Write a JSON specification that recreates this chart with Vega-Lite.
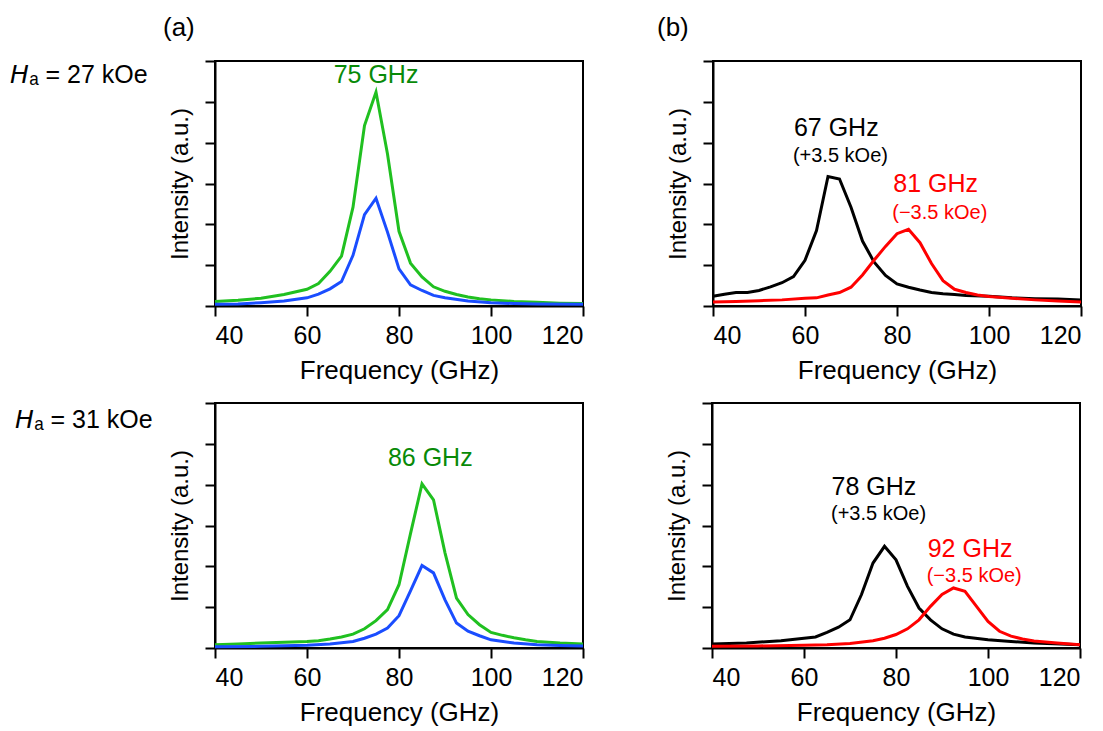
{
  "$schema": "https://vega.github.io/schema/vega-lite/v6.json",
  "background": "white",
  "padding": {"left": 10, "top": 14, "right": 2, "bottom": 2},
  "config": {
    "font": "Liberation Sans",
    "view": {"stroke": "black", "strokeWidth": 2},
    "axis": {"domainColor": "black", "domainWidth": 2, "tickColor": "black", "tickWidth": 2, "tickSize": 10, "labelFontSize": 25, "labelColor": "black", "titleFontSize": 26, "titleFontWeight": "normal", "titleColor": "black", "grid": false, "labelPadding": 7, "titlePadding": 9, "labelFont": "Liberation Sans", "titleFont": "Liberation Sans"},
    "axisY": {"titlePadding": 12, "titleFontSize": 24},
    "title": {"font": "Liberation Sans", "fontWeight": "normal", "color": "black"}
  },
  "datasets": {
    "a27g": [{"f":40,"i":0.11},{"f":45,"i":0.14},{"f":50,"i":0.19},{"f":55,"i":0.28},{"f":60,"i":0.41},{"f":62.5,"i":0.55},{"f":65,"i":0.85},{"f":67.5,"i":1.22},{"f":70,"i":2.42},{"f":72.5,"i":4.42},{"f":75,"i":5.24},{"f":77.5,"i":3.72},{"f":80,"i":1.83},{"f":82.5,"i":1.05},{"f":85,"i":0.71},{"f":87.5,"i":0.47},{"f":90,"i":0.36},{"f":92.5,"i":0.28},{"f":95,"i":0.22},{"f":97.5,"i":0.18},{"f":100,"i":0.15},{"f":105,"i":0.11},{"f":110,"i":0.09},{"f":115,"i":0.07},{"f":120,"i":0.06}],
    "a27b": [{"f":40,"i":0.04},{"f":45,"i":0.05},{"f":50,"i":0.08},{"f":55,"i":0.12},{"f":60,"i":0.2},{"f":62.5,"i":0.29},{"f":65,"i":0.42},{"f":67.5,"i":0.6},{"f":70,"i":1.24},{"f":72.5,"i":2.24},{"f":75,"i":2.64},{"f":77.5,"i":1.81},{"f":80,"i":0.91},{"f":82.5,"i":0.52},{"f":85,"i":0.38},{"f":87.5,"i":0.26},{"f":90,"i":0.2},{"f":95,"i":0.12},{"f":100,"i":0.08},{"f":105,"i":0.06},{"f":110,"i":0.05},{"f":120,"i":0.04}],
    "b27k": [{"f":40,"i":0.24},{"f":42.5,"i":0.29},{"f":45,"i":0.33},{"f":47.5,"i":0.33},{"f":50,"i":0.38},{"f":52.5,"i":0.47},{"f":55,"i":0.57},{"f":57.5,"i":0.72},{"f":60,"i":1.12},{"f":62.5,"i":1.85},{"f":65,"i":3.17},{"f":67.5,"i":3.11},{"f":70,"i":2.42},{"f":72.5,"i":1.59},{"f":75,"i":1.08},{"f":77.5,"i":0.75},{"f":80,"i":0.54},{"f":82.5,"i":0.46},{"f":85,"i":0.39},{"f":87.5,"i":0.33},{"f":90,"i":0.3},{"f":92.5,"i":0.28},{"f":95,"i":0.26},{"f":100,"i":0.24},{"f":105,"i":0.2},{"f":110,"i":0.18},{"f":115,"i":0.17},{"f":120,"i":0.15}],
    "b27r": [{"f":40,"i":0.1},{"f":45,"i":0.11},{"f":50,"i":0.13},{"f":55,"i":0.15},{"f":60,"i":0.19},{"f":62.5,"i":0.2},{"f":65,"i":0.27},{"f":67.5,"i":0.33},{"f":70,"i":0.46},{"f":72.5,"i":0.76},{"f":75,"i":1.12},{"f":77.5,"i":1.46},{"f":80,"i":1.77},{"f":82.5,"i":1.88},{"f":85,"i":1.55},{"f":87.5,"i":1.04},{"f":90,"i":0.62},{"f":92.5,"i":0.41},{"f":95,"i":0.33},{"f":97.5,"i":0.27},{"f":100,"i":0.23},{"f":105,"i":0.19},{"f":110,"i":0.15},{"f":115,"i":0.12},{"f":120,"i":0.1}],
    "a31g": [{"f":40,"i":0.08},{"f":45,"i":0.1},{"f":50,"i":0.12},{"f":55,"i":0.14},{"f":60,"i":0.16},{"f":62.5,"i":0.18},{"f":65,"i":0.22},{"f":67.5,"i":0.27},{"f":70,"i":0.34},{"f":72.5,"i":0.47},{"f":75,"i":0.67},{"f":77.5,"i":0.94},{"f":80,"i":1.55},{"f":82.5,"i":2.8},{"f":85,"i":4.02},{"f":87.5,"i":3.63},{"f":90,"i":2.33},{"f":92.5,"i":1.22},{"f":95,"i":0.82},{"f":97.5,"i":0.57},{"f":100,"i":0.38},{"f":102.5,"i":0.31},{"f":105,"i":0.25},{"f":107.5,"i":0.2},{"f":110,"i":0.16},{"f":115,"i":0.12},{"f":120,"i":0.1}],
    "a31b": [{"f":40,"i":0.03},{"f":50,"i":0.04},{"f":60,"i":0.07},{"f":65,"i":0.1},{"f":70,"i":0.16},{"f":72.5,"i":0.24},{"f":75,"i":0.34},{"f":77.5,"i":0.49},{"f":80,"i":0.79},{"f":82.5,"i":1.4},{"f":85,"i":2.02},{"f":87.5,"i":1.84},{"f":90,"i":1.18},{"f":92.5,"i":0.61},{"f":95,"i":0.41},{"f":97.5,"i":0.3},{"f":100,"i":0.2},{"f":105,"i":0.12},{"f":110,"i":0.08},{"f":115,"i":0.06},{"f":120,"i":0.05}],
    "b31k": [{"f":40,"i":0.1},{"f":47.5,"i":0.12},{"f":52.5,"i":0.16},{"f":55,"i":0.18},{"f":60,"i":0.24},{"f":62.5,"i":0.27},{"f":65,"i":0.38},{"f":67.5,"i":0.51},{"f":70,"i":0.69},{"f":72.5,"i":1.31},{"f":75,"i":2.08},{"f":77.5,"i":2.49},{"f":80,"i":2.16},{"f":82.5,"i":1.51},{"f":85,"i":0.98},{"f":87.5,"i":0.69},{"f":90,"i":0.47},{"f":92.5,"i":0.34},{"f":95,"i":0.27},{"f":100,"i":0.2},{"f":105,"i":0.16},{"f":110,"i":0.12},{"f":120,"i":0.08}],
    "b31r": [{"f":40,"i":0.04},{"f":50,"i":0.05},{"f":60,"i":0.07},{"f":65,"i":0.08},{"f":70,"i":0.11},{"f":75,"i":0.18},{"f":77.5,"i":0.24},{"f":80,"i":0.33},{"f":82.5,"i":0.47},{"f":85,"i":0.69},{"f":87.5,"i":1.02},{"f":90,"i":1.31},{"f":92.5,"i":1.47},{"f":95,"i":1.39},{"f":97.5,"i":1.02},{"f":100,"i":0.65},{"f":102.5,"i":0.41},{"f":105,"i":0.29},{"f":107.5,"i":0.22},{"f":110,"i":0.17},{"f":115,"i":0.12},{"f":120,"i":0.08}]
  },
  "spacing": 17,
  "vconcat": [
    {
      "title": {"text": "𝘏ₐ = 27 kOe", "orient": "left", "anchor": "end", "angle": 0, "align": "right", "baseline": "top", "offset": -123, "dy": 49, "fontSize": 25, "frame": "bounds"},
      "spacing": 66,
      "hconcat": [
        {
          "width": 368, "height": 245,
          "title": {"text": "(a)", "anchor": "start", "frame": "group", "dx": -52, "offset": 19, "fontSize": 26},
          "layer": [
            {"data": {"name": "a27g"}, "mark": {"type": "line", "color": "#20c020", "strokeWidth": 3},
             "encoding": {"x": {"field": "f", "type": "quantitative", "scale": {"domain": [40, 120], "nice": false, "zero": false}, "axis": {"values": [40, 60, 80, 100, 120], "title": "Frequency (GHz)"}},
                          "y": {"field": "i", "type": "quantitative", "scale": {"domain": [0, 6], "nice": false}, "axis": {"values": [0, 1, 2, 3, 4, 5, 6], "labels": false, "title": "Intensity (a.u.)"}}}},
            {"data": {"name": "a27b"}, "mark": {"type": "line", "color": "#1a4dff", "strokeWidth": 3},
             "encoding": {"x": {"field": "f", "type": "quantitative"}, "y": {"field": "i", "type": "quantitative"}}},
            {"data": {"values": [{"f": 75, "i": 5.65, "label": "75 GHz"}]}, "mark": {"type": "text", "color": "#088a08", "fontSize": 25},
             "encoding": {"x": {"field": "f", "type": "quantitative"}, "y": {"field": "i", "type": "quantitative"}, "text": {"field": "label"}}}
          ]
        },
        {
          "width": 368, "height": 245,
          "title": {"text": "(b)", "anchor": "start", "frame": "group", "dx": -56, "offset": 19, "fontSize": 26},
          "layer": [
            {"data": {"name": "b27k"}, "mark": {"type": "line", "color": "black", "strokeWidth": 3},
             "encoding": {"x": {"field": "f", "type": "quantitative", "scale": {"domain": [40, 120], "nice": false, "zero": false}, "axis": {"values": [40, 60, 80, 100, 120], "title": "Frequency (GHz)"}},
                          "y": {"field": "i", "type": "quantitative", "scale": {"domain": [0, 6], "nice": false}, "axis": {"values": [0, 1, 2, 3, 4, 5, 6], "labels": false, "title": "Intensity (a.u.)"}}}},
            {"data": {"name": "b27r"}, "mark": {"type": "line", "color": "#ff0000", "strokeWidth": 3},
             "encoding": {"x": {"field": "f", "type": "quantitative"}, "y": {"field": "i", "type": "quantitative"}}},
            {"data": {"values": [{"f": 66.8, "i": 4.37, "label": "67 GHz"}]}, "mark": {"type": "text", "color": "black", "fontSize": 25},
             "encoding": {"x": {"field": "f", "type": "quantitative"}, "y": {"field": "i", "type": "quantitative"}, "text": {"field": "label"}}},
            {"data": {"values": [{"f": 67.7, "i": 3.68, "label": "(+3.5 kOe)"}]}, "mark": {"type": "text", "color": "black", "fontSize": 20},
             "encoding": {"x": {"field": "f", "type": "quantitative"}, "y": {"field": "i", "type": "quantitative"}, "text": {"field": "label"}}},
            {"data": {"values": [{"f": 88.4, "i": 2.98, "label": "81 GHz"}]}, "mark": {"type": "text", "color": "#ff0000", "fontSize": 25},
             "encoding": {"x": {"field": "f", "type": "quantitative"}, "y": {"field": "i", "type": "quantitative"}, "text": {"field": "label"}}},
            {"data": {"values": [{"f": 89.3, "i": 2.28, "label": "(−3.5 kOe)"}]}, "mark": {"type": "text", "color": "#ff0000", "fontSize": 20},
             "encoding": {"x": {"field": "f", "type": "quantitative"}, "y": {"field": "i", "type": "quantitative"}, "text": {"field": "label"}}}
          ]
        }
      ]
    },
    {
      "title": {"text": "𝘏ₐ = 31 kOe", "orient": "left", "anchor": "end", "angle": 0, "align": "right", "baseline": "top", "offset": -123, "dy": 7, "fontSize": 25, "frame": "bounds"},
      "spacing": 74,
      "hconcat": [
        {
          "width": 368, "height": 245,
          "layer": [
            {"data": {"name": "a31g"}, "mark": {"type": "line", "color": "#20c020", "strokeWidth": 3},
             "encoding": {"x": {"field": "f", "type": "quantitative", "scale": {"domain": [40, 120], "nice": false, "zero": false}, "axis": {"values": [40, 60, 80, 100, 120], "title": "Frequency (GHz)"}},
                          "y": {"field": "i", "type": "quantitative", "scale": {"domain": [0, 6], "nice": false}, "axis": {"values": [0, 1, 2, 3, 4, 5, 6], "labels": false, "title": "Intensity (a.u.)"}}}},
            {"data": {"name": "a31b"}, "mark": {"type": "line", "color": "#1a4dff", "strokeWidth": 3},
             "encoding": {"x": {"field": "f", "type": "quantitative"}, "y": {"field": "i", "type": "quantitative"}}},
            {"data": {"values": [{"f": 86.8, "i": 4.65, "label": "86 GHz"}]}, "mark": {"type": "text", "color": "#088a08", "fontSize": 25},
             "encoding": {"x": {"field": "f", "type": "quantitative"}, "y": {"field": "i", "type": "quantitative"}, "text": {"field": "label"}}}
          ]
        },
        {
          "width": 368, "height": 245,
          "layer": [
            {"data": {"name": "b31k"}, "mark": {"type": "line", "color": "black", "strokeWidth": 3},
             "encoding": {"x": {"field": "f", "type": "quantitative", "scale": {"domain": [40, 120], "nice": false, "zero": false}, "axis": {"values": [40, 60, 80, 100, 120], "title": "Frequency (GHz)"}},
                          "y": {"field": "i", "type": "quantitative", "scale": {"domain": [0, 6], "nice": false}, "axis": {"values": [0, 1, 2, 3, 4, 5, 6], "labels": false, "title": "Intensity (a.u.)"}}}},
            {"data": {"name": "b31r"}, "mark": {"type": "line", "color": "#ff0000", "strokeWidth": 3},
             "encoding": {"x": {"field": "f", "type": "quantitative"}, "y": {"field": "i", "type": "quantitative"}}},
            {"data": {"values": [{"f": 75.2, "i": 3.94, "label": "78 GHz"}]}, "mark": {"type": "text", "color": "black", "fontSize": 25},
             "encoding": {"x": {"field": "f", "type": "quantitative"}, "y": {"field": "i", "type": "quantitative"}, "text": {"field": "label"}}},
            {"data": {"values": [{"f": 76.2, "i": 3.27, "label": "(+3.5 kOe)"}]}, "mark": {"type": "text", "color": "black", "fontSize": 20},
             "encoding": {"x": {"field": "f", "type": "quantitative"}, "y": {"field": "i", "type": "quantitative"}, "text": {"field": "label"}}},
            {"data": {"values": [{"f": 96.1, "i": 2.42, "label": "92 GHz"}]}, "mark": {"type": "text", "color": "#ff0000", "fontSize": 25},
             "encoding": {"x": {"field": "f", "type": "quantitative"}, "y": {"field": "i", "type": "quantitative"}, "text": {"field": "label"}}},
            {"data": {"values": [{"f": 97, "i": 1.76, "label": "(−3.5 kOe)"}]}, "mark": {"type": "text", "color": "#ff0000", "fontSize": 20},
             "encoding": {"x": {"field": "f", "type": "quantitative"}, "y": {"field": "i", "type": "quantitative"}, "text": {"field": "label"}}}
          ]
        }
      ]
    }
  ]
}
